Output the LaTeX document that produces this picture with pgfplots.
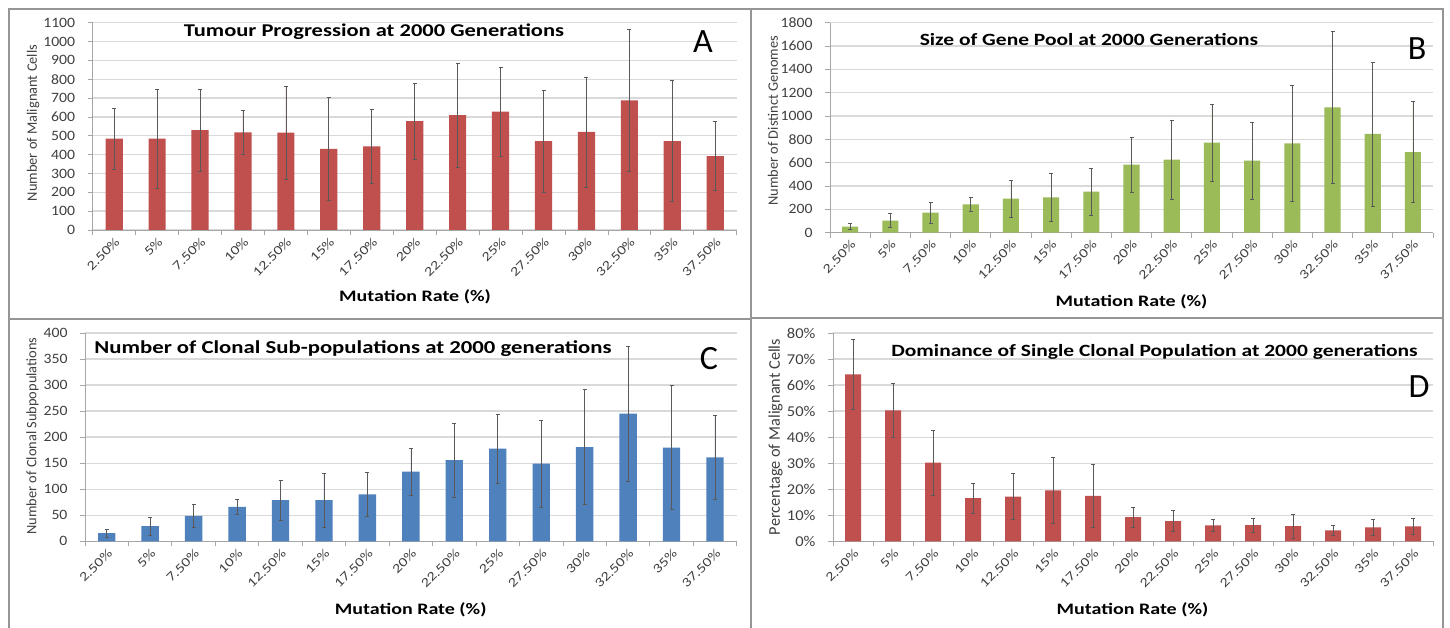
\documentclass[border=0pt]{standalone}
\usepackage{pgfplots}
\pgfplotsset{compat=1.18}
\usepackage{fontspec}
\setmainfont{Carlito}[FakeStretch=1.25]
\newfontfamily\plainfont{Carlito}
\newfontfamily\tickfont{Carlito}[FakeStretch=1.1]
\definecolor{xred}{HTML}{C0504D}
\definecolor{xgreen}{HTML}{9BBB59}
\definecolor{xblue}{HTML}{4F81BD}
\definecolor{gridc}{HTML}{D9D9D9}
\definecolor{axc}{HTML}{A6A6A6}
\definecolor{txt}{HTML}{404040}

\pgfplotstableread{
x y e
0 485 163
1 485 263
2 530 217
3 518 118
4 516 246
5 430 273
6 444 198
7 578 201
8 610 275
9 628 237
10 472 270
11 520 292
12 688 378
13 472 320
14 392 184
}\dataA
\pgfplotstableread{
x y e
0 53 26
1 103 60
2 171 92
3 243 58
4 291 158
5 303 205
6 351 200
7 583 237
8 626 340
9 771 331
10 617 333
11 766 496
12 1074 649
13 846 618
14 691 435
}\dataB
\pgfplotstableread{
x y e
0 15.5 7
1 29 17
2 49 22
3 66 15
4 79 38
5 79 52
6 90 42
7 134 45
8 156 71
9 178 66
10 149 83
11 181 111
12 245 129
13 180 119
14 161 80
}\dataC
\pgfplotstableread{
x y e
0 64.1 13.5
1 50.3 10.3
2 30.2 12.4
3 16.6 5.7
4 17.2 8.8
5 19.6 12.7
6 17.4 12.2
7 9.3 3.8
8 7.7 4
9 6.1 2.2
10 6.2 2.6
11 5.8 4.7
12 4.2 1.8
13 5.3 3
14 5.7 3
}\dataD

\pgfplotsset{
  panel/.style={
    scale only axis, anchor=south west,
    xmin=-0.5, xmax=14.5, ymin=0,
    ybar, bar width=0.4,
    xtick={0,...,14},
    xticklabels={2.50\%,5\%,7.50\%,10\%,12.50\%,15\%,17.50\%,20\%,22.50\%,25\%,27.50\%,30\%,32.50\%,35\%,37.50\%},
    minor xtick={-0.5,0.5,...,14.5},
    major x tick style={draw=none},
    minor x tick style={draw=axc, line width=0.8pt},
    minor tick length=5pt,
    major tick length=5pt,
    y tick style={draw=axc, line width=0.8pt},
    tick align=outside,
    axis x line*=bottom, axis y line*=left,
    axis line style={draw=axc, line width=0.8pt, -},
    ymajorgrids, grid style={draw=gridc, line width=1.3pt},
    /pgf/number format/assume math mode=true,
    /pgf/number format/1000 sep={},
    yticklabel style={font=\tickfont\fontsize{14.3}{16}\selectfont, text=txt, xshift=-9pt},
    xticklabel style={font=\fontsize{13}{14}\selectfont, text=txt, rotate=45, anchor=north east, inner sep=1pt},
    clip=false,
  },
  bars/.style={draw=none, fill=#1,
    error bars/.cd, y dir=both, y explicit,
    error bar style={draw=black!65, line width=0.7pt},
    error mark options={rotate=90, mark size=2pt, draw=black!65, line width=0.7pt}},
}

\begin{document}
\begin{tikzpicture}[x=1pt,y=1pt]
\path[use as bounding box, fill=white] (0,0) rectangle (1450,628);
% panel frames
\draw[axc!90!black, line width=1.3pt] (9,0) -- (9,619) -- (1443,619) -- (1443,0);
\draw[axc!90!black, line width=1.3pt] (751,0) -- (751,619);
\draw[axc!90!black, line width=1.3pt] (9,309) -- (751,309);
\draw[axc!90!black, line width=1.3pt] (751,310) -- (1443,310);

% Panel A
\begin{axis}[panel, at={(92.7pt,398pt)}, width=644pt, height=207.3pt,
  ymax=1100, ytick={0,100,...,1100}]
\addplot[bars=xred] table[x=x, y=y, y error=e] {\dataA};
\end{axis}
% Panel B
\begin{axis}[panel, at={(830pt,395.3pt)}, width=603pt, height=210pt,
  ymax=1800, ytick={0,200,...,1800}]
\addplot[bars=xgreen] table[x=x, y=y, y error=e] {\dataB};
\end{axis}
% Panel C
\begin{axis}[panel, at={(85pt,86.7pt)}, width=651.7pt, height=208.3pt,
  ymax=400, ytick={0,50,...,400}]
\addplot[bars=xblue] table[x=x, y=y, y error=e] {\dataC};
\end{axis}
% Panel D
\begin{axis}[panel, at={(833pt,86.7pt)}, width=600pt, height=208.3pt,
  ymax=80, ytick={0,10,...,80},
  yticklabel={\pgfmathprintnumber{\tick}\%},
  yticklabel style={font=\tickfont\fontsize{15}{16}\selectfont}]
\addplot[bars=xred] table[x=x, y=y, y error=e] {\dataD};
\end{axis}

% titles
\node[font=\fontsize{18}{20}\selectfont\bfseries] at (374,596.3) {Tumour Progression at 2000 Generations};
\node[font=\fontsize{17.2}{20}\selectfont\bfseries] at (1089,588.7) {Size of Gene Pool at 2000 Generations};
\node[font=\fontsize{18.2}{20}\selectfont\bfseries] at (353,279.3) {Number of Clonal Sub-populations at 2000 generations};
\node[font=\fontsize{17.2}{20}\selectfont\bfseries] at (1154.5,276) {Dominance of Single Clonal Population at 2000 generations};
% panel letters
\node[font=\plainfont\fontsize{34}{36}\selectfont] at (703,586.3) {A};
\node[font=\plainfont\fontsize{34}{36}\selectfont] at (1417,579.7) {B};
\node[font=\plainfont\fontsize{34}{36}\selectfont] at (709,269.3) {C};
\node[font=\plainfont\fontsize{34}{36}\selectfont] at (1419,241) {D};
% y labels
\node[rotate=90, text=txt, font=\plainfont\fontsize{14.4}{16}\selectfont] at (33,505) {Number of Malignant Cells};
\node[rotate=90, text=txt, font=\plainfont\fontsize{14.4}{16}\selectfont] at (773,507.2) {Number of Distinct Genomes};
\node[rotate=90, text=txt, font=\plainfont\fontsize{14.4}{16}\selectfont] at (32.5,192) {Number of Clonal Subpopulations};
\node[rotate=90, text=txt, font=\plainfont\fontsize{16.3}{18}\selectfont] at (775.5,191) {Percentage of Malignant Cells};
% x labels
\node[font=\fontsize{16}{18}\selectfont\bfseries] at (415,331.3) {Mutation Rate (\%)};
\node[font=\fontsize{16}{18}\selectfont\bfseries] at (1131.5,326.3) {Mutation Rate (\%)};
\node[font=\fontsize{16}{18}\selectfont\bfseries] at (410.7,18.3) {Mutation Rate (\%)};
\node[font=\fontsize{16}{18}\selectfont\bfseries] at (1132.5,18.3) {Mutation Rate (\%)};
\end{tikzpicture}
\end{document}
